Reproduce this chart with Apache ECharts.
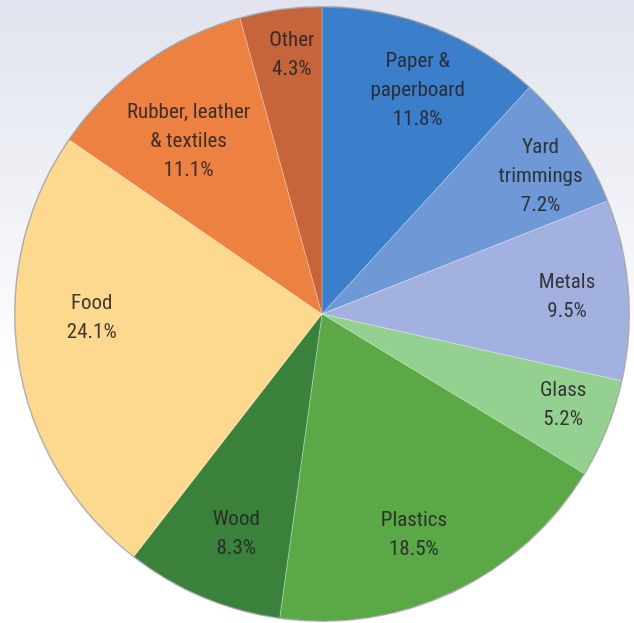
<!DOCTYPE html>
<html>
<head>
<meta charset="utf-8">
<title>Municipal solid waste composition</title>
<script src="https://cdn.jsdelivr.net/npm/echarts@6/dist/echarts.min.js"></script>
<style>
  html, body { margin: 0; padding: 0; background: #ffffff; }
  #chart { width: 634px; height: 623px; }
</style>
</head>
<body>
<div id="chart"></div>
<script>
// Material categories, clockwise from 12 o'clock
const categories = [
  'Paper &\npaperboard',
  'Yard\ntrimmings',
  'Metals',
  'Glass',
  'Plastics',
  'Wood',
  'Food',
  'Rubber, leather\n& textiles',
  'Other'
];

// Share of total, percent
const shares = [11.8, 7.2, 9.5, 5.2, 18.5, 8.3, 24.1, 11.1, 4.3];

// Slice fills
const sliceColors = [
  '#3b7fcb', '#6e98d6', '#a3b1e0', '#94d08f', '#5aa846',
  '#3a823b', '#fdd98f', '#ec8142', '#c6653b'
];

// Label placement: distance from centre (fraction of radius)
// and a small turn (degrees, clockwise) off the slice bisector
const labelReach = [0.79, 0.84, 0.80, 0.84, 0.78, 0.77, 0.75, 0.71, 0.85];
const labelTurn  = [2.0, 2.5, 0.7, -1.2, 2.8, -1.6, 7.8, -2.3, 1.1];

const CX = 322, CY = 314, R = 307;

// bisector angle of each slice, degrees clockwise from 12 o'clock
const total = shares.reduce((a, b) => a + b, 0);
const bisectors = [];
shares.reduce((acc, v) => { bisectors.push((acc + v / 2) / total * 360); return acc + v; }, 0);

const chart = echarts.init(document.getElementById('chart'), null, { renderer: 'canvas' });

chart.setOption({
  animation: false,
  backgroundColor: {
    type: 'linear', x: 0, y: 0, x2: 0, y2: 1,
    colorStops: [
      { offset: 0, color: '#e1e4ee' },
      { offset: 0.3, color: '#eef0f5' },
      { offset: 0.6, color: '#ffffff' },
      { offset: 1, color: '#ffffff' }
    ]
  },
  series: [
    {
      type: 'pie',
      center: [CX, CY],
      radius: [0, R],
      startAngle: 90,
      clockwise: true,
      silent: true,
      data: categories.map((name, i) => ({
        name: name,
        value: shares[i],
        itemStyle: { color: sliceColors[i] }
      })),
      itemStyle: {
        borderColor: 'rgba(255,255,255,0.35)',
        borderWidth: 0.8
      },
      label: {
        show: true,
        position: 'inside',
        formatter: p => p.name + '\n' + p.value.toFixed(1) + '%',
        fontFamily: '"Liberation Sans Narrow", "Roboto Condensed", "Noto Sans", sans-serif',
        fontSize: 21,
        lineHeight: 29,
        color: 'rgba(38,34,36,0.88)',
        align: 'center'
      },
      labelLine: { show: false },
      labelLayout: function (params) {
        const i = params.dataIndex;
        const lr = params.labelRect;
        const mx = lr.x + lr.width / 2;
        const my = lr.y + lr.height / 2;
        const a = (bisectors[i] + labelTurn[i]) * Math.PI / 180;
        const k = labelReach[i] * R;
        return {
          dx: CX + Math.sin(a) * k - mx,
          dy: CY - Math.cos(a) * k - my
        };
      }
    },
    {
      // thin grey rim around the pie
      type: 'pie',
      center: [CX, CY],
      radius: [R - 0.5, R + 1],
      silent: true,
      label: { show: false },
      labelLine: { show: false },
      itemStyle: { color: 'rgba(120,120,120,0.55)' },
      data: [{ value: 1, name: 'rim' }]
    }
  ]
});
</script>
</body>
</html>
